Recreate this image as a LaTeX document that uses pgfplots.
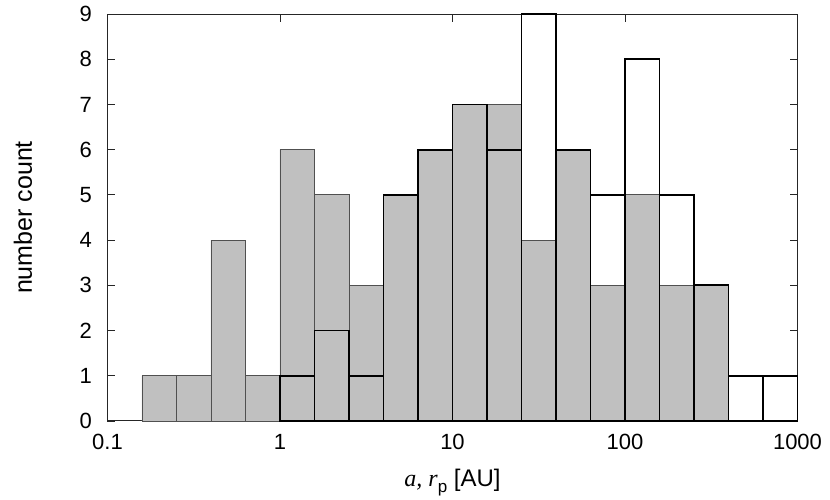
\documentclass[border=0pt]{standalone}
\usepackage{fontspec}
\setmainfont{Liberation Sans}
\newfontfamily\serifit[ItalicFont={Liberation Serif Italic}]{Liberation Serif}
\usepackage{pgfplots}
\pgfplotsset{compat=1.18}
\definecolor{bargray}{RGB}{192,192,192}
\definecolor{edgegray}{RGB}{80,80,80}

\begin{document}
\begin{tikzpicture}
\begin{axis}[
  scale only axis,
  width=690pt, height=407pt,
  xmode=log, log basis x=10,
  xmin=0.1, xmax=1000,
  ymin=0, ymax=9,
  xtick={0.1,1,10,100,1000},
  xticklabels={0.1,1,10,100,1000},
  ytick={0,1,...,9},
  tick align=inside,
  major tick length=8pt, minor tick length=4pt,
  axis line style={line width=1pt, black!85},
  tick style={line width=0.9pt, black!85},
  tick label style={font=\fontsize{22}{26}\selectfont},
  /pgf/number format/assume math mode=true,
  xticklabel style={yshift=-10pt},
  yticklabel style={xshift=-12pt},
  xlabel={{\serifit\itshape a, r}\raisebox{-0.25em}{\fontsize{17}{19}\selectfont p} [AU]},
  ylabel={number count},
  xlabel style={font=\fontsize{24}{28}\selectfont,
                at={(axis description cs:0.5,-0.152)}, anchor=center},
  ylabel style={font=\fontsize{25}{29}\selectfont,
                at={(axis description cs:-0.1225,0.5)}, anchor=center},
  clip=false,
]
% gray histogram
\addplot[ybar interval, fill=bargray, draw=edgegray, line width=0.8pt]
  coordinates {(0.158489,1) (0.251189,1) (0.398107,4) (0.630957,1)
               (1,6) (1.584893,5) (2.511886,3) (3.981072,5) (6.309573,6)
               (10,7) (15.848932,7) (25.118864,4) (39.810717,6)
               (63.095734,3) (100,5) (158.489319,3) (251.188643,3)
               (398.107171,0)};
% outlined histogram
\addplot[ybar interval, fill=none, draw=black, line width=1.8pt]
  coordinates {(1,1) (1.584893,2) (2.511886,1) (3.981072,5) (6.309573,6)
               (10,7) (15.848932,6) (25.118864,9) (39.810717,6)
               (63.095734,5) (100,8) (158.489319,5) (251.188643,3)
               (398.107171,1) (630.957344,1) (1000,0)};
\end{axis}
\path (-107.5pt,-77pt) rectangle (722.5pt,421pt);
\end{tikzpicture}
\end{document}
